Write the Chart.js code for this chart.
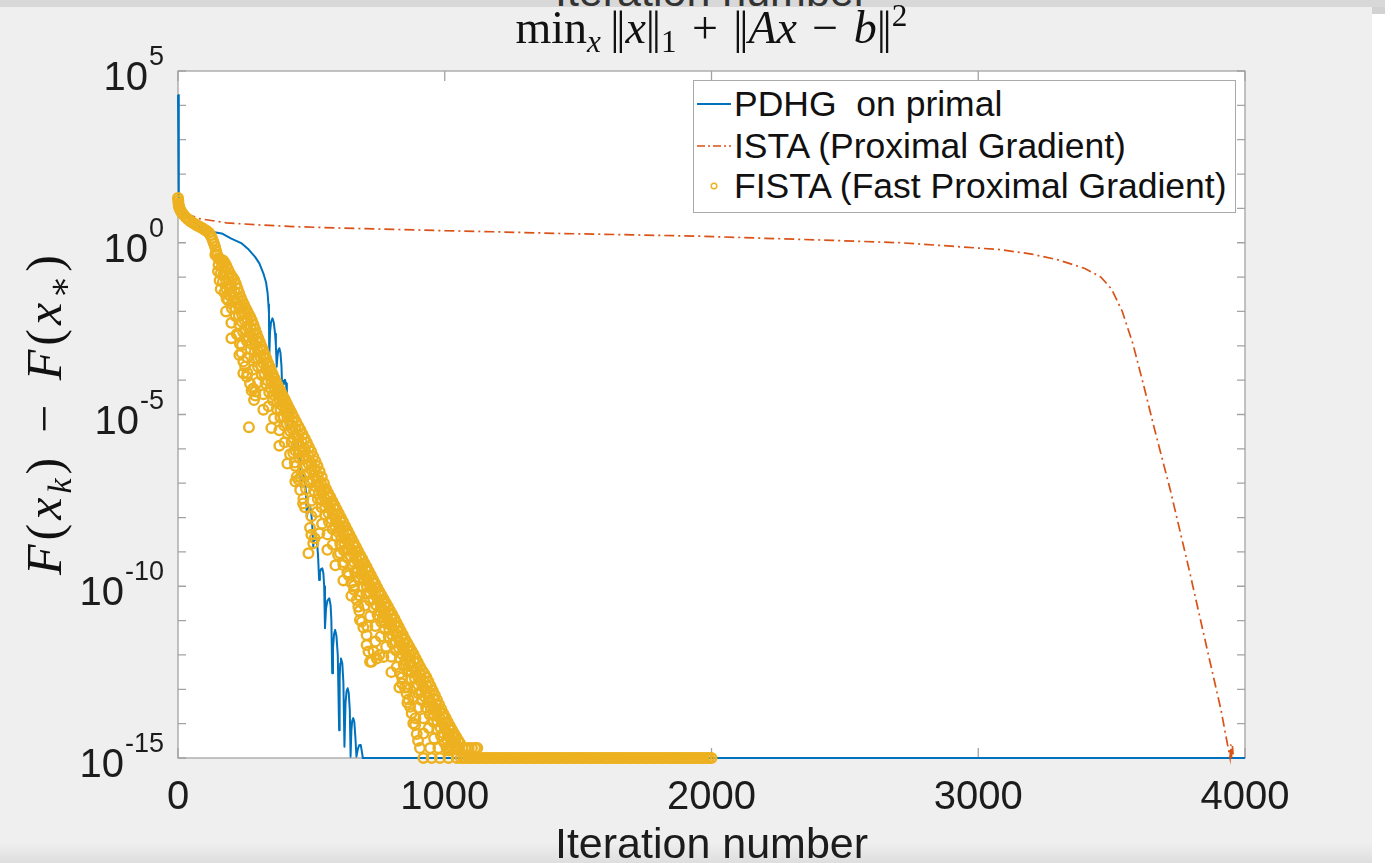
<!DOCTYPE html>
<html lang="en">
  <head>
    <meta charset="UTF-8" />
    <script src="https://cdn.jsdelivr.net/npm/chart.js"></script>
    <style>
      body {
        margin: 0;
        width: 1391px;
        height: 863px;
        position: relative;
        overflow: hidden;
        background: #ffffff;
        font-family: "Liberation Sans", Arial, sans-serif;
      }
      #figure {
        position: absolute;
        left: 0;
        top: 7px;
        width: 1372px;
        height: 856px;
        background: linear-gradient(to bottom, #efefef 0, #efefef 835px, #dedede 856px);
      }
      #topbar {
        position: absolute;
        left: 0;
        top: 0;
        width: 1385px;
        height: 7px;
        background: #d8d8d8;
        overflow: hidden;
      }
      #topbar span {
        position: absolute;
        left: 0;
        top: -30px;
        width: 1423px;
        text-align: center;
        font-size: 43px;
        line-height: 43px;
        color: #333;
      }
      #topbar2 {
        position: absolute;
        left: 1372px;
        top: 7px;
        width: 13px;
        height: 7px;
        background: #d2d2d2;
      }
      canvas {
        position: absolute;
        left: 0;
        top: 0;
      }
      #title {
        position: absolute;
        left: 0;
        top: 5px;
        width: 1423px;
        text-align: center;
        font-family: "Liberation Serif", "DejaVu Serif", serif;
        font-size: 46px;
        line-height: 46px;
        color: #111;
        white-space: pre;
      }
      .bars {
        letter-spacing: -0.07em;
        margin-right: 0.07em;
      }
      #ylabel {
        position: absolute;
        left: -156px;
        top: 385px;
        width: 400px;
        height: 56px;
        line-height: 56px;
        text-align: center;
        transform: rotate(-90deg);
        font-family: "Liberation Serif", "DejaVu Serif", serif;
        font-size: 50px;
        letter-spacing: 0.08em;
        color: #111;
        white-space: pre;
      }
      sub, sup {
        font-size: 0.68em;
        line-height: 0;
      }
      sub { vertical-align: -0.28em; }
      sup { vertical-align: 0.55em; }
      #legend {
        position: absolute;
        left: 693px;
        top: 80px;
        width: 543px;
        height: 133px;
        box-sizing: border-box;
        background: #ffffff;
        border: 1.5px solid #a9a9a9;
      }
      .entry {
        position: absolute;
        left: 0;
        height: 36px;
        font-size: 35.5px;
        line-height: 36px;
        color: #111;
        white-space: pre;
      }
      .entry svg {
        position: absolute;
        left: 3px;
        top: 0;
      }
      .entry span {
        position: absolute;
        left: 40px;
        top: 0;
      }
    </style>
  </head>
  <body>
    <div id="figure"></div>
    <div id="topbar"><span>Iteration number</span></div>
    <div id="topbar2"></div>
    <canvas id="convChart" width="1391" height="863"></canvas>
    <div id="title">min<sub><i>x</i></sub>&#8201;<span class="bars">||</span><i>x</i><span class="bars">||</span><sub>1</sub>&#8196;+&#8196;<span class="bars">||</span><i>Ax</i>&#8196;−&#8196;<i>b</i><span class="bars">||</span><sup>2</sup></div>
    <div id="ylabel"><i>F</i>(<i>x</i><sub><i>k</i></sub>)&#8196;−&#8196;<i>F</i>(<i>x</i><sub>∗</sub>)</div>
    <div id="legend"></div>

    <script>
      // axis setup
      const xTickValues = [0, 1000, 2000, 3000, 4000];
      const xTickLabels = ["0", "1000", "2000", "3000", "4000"];
      const yTickExponents = [5, 0, -5, -10, -15];
      const seriesLabels = [
        "PDHG  on primal",
        "ISTA (Proximal Gradient)",
        "FISTA (Fast Proximal Gradient)",
      ];

      // [iteration, log10(F(x_k) - F(x*))]
      const pdhgLog10 = [
        [0, 4.3], [3, 1.3], [8, 1.05], [15, 0.92], [25, 0.82], [40, 0.7], [60, 0.58], [80, 0.49],
        [100, 0.4], [120, 0.33], [164, 0.27], [200, 0.12], [239, -0.02], [265, -0.2], [289, -0.41],
        [305, -0.6], [320, -0.89], [330, -1.15], [336, -1.47], [339, -1.8], [341, -2.05], [342, -3.36],
        [345, -2.6], [349, -2.3], [354, -2.2], [359, -2.32], [364, -2.65], [367, -3.0], [370, -3.61],
        [373, -3.3], [376, -3.12], [380, -3.07], [384, -3.2], [388, -3.6], [391, -4.38],
        [394, -4.12], [397, -4.02], [401, -3.99], [405, -4.1], [408, -4.4], [411, -5.3],
        [415, -5.0], [419, -4.92], [425, -4.9], [430, -5.05], [434, -5.4], [437, -6.2],
        [441, -5.95], [444, -5.82], [448, -5.8], [453, -5.95], [457, -6.35], [460, -7.1],
        [464, -6.85], [467, -6.76], [471, -6.74], [476, -6.9], [480, -7.3], [483, -8.0],
        [487, -7.75], [490, -7.66], [494, -7.64], [499, -7.8], [503, -8.2], [507, -8.85],
        [510, -8.65], [513, -8.58], [517, -8.56], [521, -8.7], [525, -9.1], [529, -9.82],
        [532, -9.6], [536, -9.5], [541, -9.48], [545, -9.62], [548, -10.0], [551, -11.22],
        [555, -10.65], [560, -10.42], [567, -10.35], [572, -10.55], [575, -11.0], [578, -12.53],
        [581, -11.8], [585, -11.4], [589, -11.27], [594, -11.45], [599, -12.0], [604, -14.19],
        [606, -12.7], [608, -12.25], [611, -12.1], [616, -12.25], [620, -12.8], [624, -14.67],
        [628, -13.4], [632, -13.05], [636, -12.97], [640, -13.1], [644, -13.6], [647, -14.96],
        [650, -14.2], [653, -13.92], [657, -13.84], [661, -13.95], [665, -14.4], [669, -14.96],
        [674, -14.75], [679, -14.63], [685, -14.62], [689, -14.8], [693, -15], [4000, -15],
      ];

      const istaLog10 = [
        [0, 1.3], [7, 0.9], [26, 0.86], [80, 0.7], [182, 0.58], [300, 0.52], [432, 0.47], [600, 0.43],
        [807, 0.39], [1000, 0.35], [1182, 0.32], [1432, 0.27], [1700, 0.23], [1957, 0.19], [2200, 0.13],
        [2450, 0.07], [2707, 0.0], [2900, -0.1], [3082, -0.2], [3200, -0.33], [3300, -0.5],
        [3400, -0.75], [3460, -1.0], [3500, -1.35], [3540, -2.0], [3580, -2.95], [3620, -4.15],
        [3660, -5.4], [3720, -7.2], [3790, -9.5], [3860, -11.9], [3910, -13.6], [3944, -15],
        [3947, -14.6], [3950, -15], [3953, -14.65], [3956, -15],
      ];

      // FISTA markers: upper edge of the cloud, then the strands below it
      const fistaUpper = [
        [0, 1.3], [1, 1.22], [2, 1.14], [3, 1.08], [5, 1.02], [8, 0.96], [12, 0.91], [16, 0.86],
        [20, 0.82], [28, 0.75], [36, 0.69], [44, 0.64], [52, 0.6], [60, 0.56], [68, 0.52], [76, 0.49],
        [84, 0.45], [92, 0.42], [100, 0.38], [108, 0.34], [116, 0.29], [122, 0.22], [127, 0.14],
        [131, 0.06], [135, -0.03], [139, -0.12], [143, -0.24], [147, -0.35], [151, -0.45], [157, -0.48],
        [163, -0.5], [169, -0.52], [175, -0.58], [181, -0.67], [187, -0.77], [193, -0.87], [199, -0.95],
        [205, -1.02], [211, -1.09], [217, -1.2], [223, -1.33], [229, -1.46], [235, -1.59], [241, -1.7],
        [247, -1.8], [253, -1.9], [259, -1.99], [265, -2.08], [271, -2.17], [277, -2.27], [283, -2.39],
        [289, -2.52], [295, -2.65], [301, -2.78], [307, -2.9], [313, -3.02], [319, -3.13], [325, -3.25],
        [331, -3.37], [337, -3.49], [343, -3.6], [349, -3.72], [355, -3.83], [361, -3.94], [367, -4.04],
        [373, -4.14], [379, -4.24], [385, -4.34], [391, -4.43], [397, -4.52], [403, -4.61], [409, -4.71],
        [415, -4.8], [421, -4.89], [427, -4.98], [435, -5.1], [443, -5.22], [451, -5.34], [459, -5.45],
        [467, -5.58], [475, -5.7], [483, -5.82], [491, -5.95], [499, -6.08], [507, -6.22], [515, -6.36],
        [523, -6.5], [531, -6.66], [539, -6.82], [547, -7.0], [555, -7.17], [563, -7.29], [571, -7.41],
        [579, -7.53], [587, -7.65], [595, -7.77], [603, -7.89], [611, -8.01], [619, -8.13], [627, -8.25],
        [635, -8.38], [643, -8.5], [651, -8.62], [659, -8.74], [667, -8.86], [675, -8.98], [683, -9.1],
        [691, -9.21], [699, -9.33], [707, -9.44], [715, -9.56], [723, -9.68], [731, -9.8], [739, -9.92],
        [747, -10.04], [755, -10.16], [763, -10.27], [771, -10.38], [779, -10.49], [787, -10.6],
        [795, -10.71], [803, -10.82], [811, -10.94], [819, -11.06], [827, -11.18], [835, -11.3],
        [843, -11.42], [851, -11.54], [859, -11.65], [867, -11.76], [875, -11.87], [883, -11.98],
        [891, -12.1], [899, -12.22], [907, -12.34], [915, -12.45], [923, -12.55], [931, -12.65],
        [939, -12.78], [947, -12.91], [955, -13.04], [963, -13.17], [971, -13.31], [979, -13.45],
        [987, -13.58], [995, -13.71], [1003, -13.83], [1011, -13.95], [1019, -14.07], [1027, -14.18],
        [1035, -14.29], [1043, -14.39], [1051, -14.5], [1057, -14.57],
      ];

      const fistaBand1 = [
        [140, -0.35], [152, -0.65], [164, -0.7], [176, -0.83], [188, -1.03], [200, -1.23], [212, -1.43],
        [224, -1.62], [236, -1.82], [248, -2.03], [260, -2.24], [272, -2.46], [284, -2.67], [296, -2.89],
        [308, -3.1], [320, -3.31], [332, -3.52], [344, -3.73], [356, -3.94], [368, -4.15], [380, -4.36],
        [392, -4.57], [404, -4.78], [416, -4.99], [428, -5.2], [440, -5.4], [452, -5.6], [464, -5.8],
        [476, -6.0], [488, -6.2], [500, -6.41], [512, -6.61], [524, -6.81], [536, -7.01], [548, -7.21],
        [560, -7.39], [572, -7.57], [584, -7.75], [596, -7.93], [608, -8.11], [620, -8.28], [632, -8.46],
        [644, -8.64], [656, -8.82], [668, -9.0], [680, -9.17], [692, -9.35], [704, -9.53], [716, -9.71],
        [728, -9.89], [740, -10.06], [752, -10.24], [764, -10.42], [776, -10.6], [788, -10.78],
        [800, -10.95], [812, -11.13], [824, -11.31], [836, -11.49], [848, -11.67], [860, -11.84],
        [872, -12.02], [884, -12.2], [896, -12.38], [908, -12.56], [920, -12.74], [932, -12.91],
        [944, -13.09], [956, -13.27], [968, -13.45], [980, -13.63], [992, -13.81], [1004, -13.98],
        [1016, -14.16], [1028, -14.34], [1040, -14.52], [1052, -14.7],
      ];

      const fistaBand2 = [
        [150, -0.83], [160, -0.9], [170, -0.94], [180, -1.1], [190, -1.26], [200, -1.43], [210, -1.59],
        [220, -1.76], [230, -1.92], [240, -2.08], [250, -2.26], [260, -2.44], [270, -2.62], [280, -2.8],
        [290, -2.98], [300, -3.16], [310, -3.34], [320, -3.51], [330, -3.69], [340, -3.86], [350, -4.04],
        [360, -4.21], [370, -4.38], [380, -4.56], [390, -4.73], [400, -4.91], [410, -5.08], [420, -5.26],
        [430, -5.43], [440, -5.6], [450, -5.77], [460, -5.93], [470, -6.1], [480, -6.27], [490, -6.44],
        [500, -6.61], [510, -6.77], [520, -6.94], [530, -7.11], [540, -7.28], [550, -7.44], [560, -7.59],
        [570, -7.74], [580, -7.89], [590, -8.04], [600, -8.19], [610, -8.33], [620, -8.48], [630, -8.63],
        [640, -8.78], [650, -8.93], [660, -9.08], [670, -9.23], [680, -9.37], [690, -9.52], [700, -9.67],
        [710, -9.82], [720, -9.97], [730, -10.12], [740, -10.26], [750, -10.41], [760, -10.56],
        [770, -10.71], [780, -10.86], [790, -11.01], [800, -11.15], [810, -11.3], [820, -11.45],
        [830, -11.6], [840, -11.75], [850, -11.9], [860, -12.04], [870, -12.19], [880, -12.34],
        [890, -12.49], [900, -12.64], [910, -12.79], [920, -12.94], [930, -13.08], [940, -13.23],
        [950, -13.38], [960, -13.53], [970, -13.68], [980, -13.82], [990, -13.97], [1000, -14.12],
        [1010, -14.27], [1020, -14.42], [1030, -14.57], [1040, -14.72],
      ];

      const fistaBand2b = [
        [156, -1.1], [168, -1.14], [180, -1.32], [192, -1.52], [204, -1.71], [216, -1.91], [228, -2.11],
        [240, -2.3], [252, -2.52], [264, -2.73], [276, -2.95], [288, -3.17], [300, -3.38], [312, -3.59],
        [324, -3.8], [336, -4.01], [348, -4.22], [360, -4.43], [372, -4.64], [384, -4.85], [396, -5.06],
        [408, -5.27], [420, -5.48], [432, -5.68], [444, -5.89], [456, -6.09], [468, -6.29], [480, -6.49],
        [492, -6.69], [504, -6.89], [516, -7.09], [528, -7.3], [540, -7.5], [552, -7.69], [564, -7.87],
        [576, -8.05], [588, -8.23], [600, -8.41], [612, -8.58], [624, -8.76], [636, -8.94], [648, -9.12],
        [660, -9.3], [672, -9.48], [684, -9.65], [696, -9.83], [708, -10.01], [720, -10.19],
        [732, -10.37], [744, -10.55], [756, -10.72], [768, -10.9], [780, -11.08], [792, -11.26],
        [804, -11.43], [816, -11.61], [828, -11.79], [840, -11.97], [852, -12.15], [864, -12.32],
        [876, -12.5], [888, -12.68], [900, -12.86], [912, -13.04], [924, -13.21], [936, -13.39],
        [948, -13.57], [960, -13.75], [972, -13.93], [984, -14.11], [996, -14.28], [1008, -14.46],
        [1020, -14.64],
      ];

      const fistaBand3 = [
        [160, -1.35], [174, -1.45], [188, -1.68], [202, -1.91], [216, -2.14], [230, -2.37], [244, -2.6],
        [258, -2.86], [272, -3.11], [286, -3.36], [300, -3.61], [314, -3.86], [328, -4.1], [342, -4.35],
        [356, -4.59], [370, -4.83], [384, -5.08], [398, -5.32], [412, -5.57], [426, -5.81], [440, -6.05],
        [454, -6.27], [468, -6.52], [482, -6.75], [496, -6.99], [510, -7.22], [524, -7.46], [538, -7.7],
        [552, -7.92], [566, -8.13], [580, -8.34], [594, -8.55], [608, -8.76], [622, -8.96], [636, -9.17],
        [650, -9.38], [664, -9.59], [678, -9.79], [692, -10.0], [706, -10.21], [720, -10.42],
        [734, -10.63], [748, -10.83], [762, -11.04], [776, -11.25], [790, -11.46], [804, -11.66],
        [818, -11.87], [832, -12.08], [846, -12.29], [860, -12.49], [874, -12.7], [888, -12.91],
        [902, -13.12], [916, -13.33], [930, -13.53], [944, -13.74], [958, -13.95], [972, -14.16],
        [986, -14.36], [1000, -14.57], [1014, -14.78],
      ];

      const fistaBand4 = [
        [180, -2.0], [200, -2.33], [220, -2.66], [240, -2.98], [260, -3.34], [280, -3.7], [300, -4.06],
        [320, -4.41], [340, -4.76], [360, -5.11], [380, -5.46], [400, -5.81], [420, -6.16], [440, -6.5],
        [460, -6.83], [480, -7.17], [500, -7.51], [520, -7.84], [540, -8.18], [560, -8.49], [580, -8.79],
        [600, -9.09], [620, -9.38], [640, -9.68], [660, -9.98], [680, -10.27], [700, -10.57],
        [720, -10.87], [740, -11.16], [760, -11.46], [780, -11.76], [800, -12.05], [820, -12.35],
        [840, -12.65], [860, -12.94], [880, -13.24], [900, -13.54], [920, -13.84], [940, -14.13],
        [960, -14.43],
      ];

      const fistaBand5 = [
        [200, -2.78], [230, -3.27], [260, -3.79], [290, -4.33], [320, -4.86], [350, -5.39], [380, -5.91],
        [410, -6.43], [440, -6.95], [470, -7.45], [500, -7.96], [530, -8.46], [560, -8.94], [590, -9.39],
        [620, -9.83], [650, -10.28], [680, -10.72], [710, -11.17], [740, -11.61], [770, -12.06],
        [800, -12.5], [830, -12.95], [860, -13.39], [890, -13.84], [920, -14.29],
      ];

      const fistaScatter = [
        [182, -1.62], [226, -2.69], [232, -2.95], [238, -3.2], [245, -3.46], [245, -3.8], [252, -3.6],
        [258, -3.9], [266, -5.37], [270, -4.1], [276, -4.3], [282, -4.24], [285, -4.58], [290, -4.45],
        [432, -6.12], [438, -6.4], [445, -6.81], [452, -6.9], [458, -7.2], [469, -7.59], [476, -7.7],
        [489, -9.04], [495, -8.3], [500, -8.5], [507, -8.75], [512, -8.6],
        [607, -9.04], [620, -9.3], [635, -9.6], [650, -9.9], [660, -10.1], [670, -10.4], [676, -10.6],
        [682, -10.98], [689, -11.03], [695, -11.2], [707, -11.42], [707, -11.71], [714, -11.9],
        [720, -12.2], [726, -12.2], [733, -11.9], [745, -12.1], [755, -12.0],
        [832, -12.53], [840, -12.83], [850, -12.95], [857, -13.12], [864, -13.3], [870, -13.51],
        [876, -13.7], [882, -13.99], [889, -14.04], [895, -14.3], [900, -14.5],
      ];

      // row of markers just above the floor, and the floor itself (1e-15)
      const fistaRowLevel = -14.71;
      const fistaRowIter = [907, 945, 976, 1007, 1018, 1030, 1042, 1054, 1066, 1078, 1090, 1102, 1114, 1122];
      const floorLevel = -15;
      const fistaFloorIter = [
        920, 951, 982, 1014, 1045, 1060, 1070, 1080, 1090, 1100, 1110, 1120, 1130, 1140, 1150, 1160,
        1170, 1180, 1190, 1200, 1210, 1220, 1230, 1240, 1250, 1260, 1270, 1280, 1290, 1300, 1310, 1320,
        1330, 1340, 1350, 1360, 1370, 1380, 1390, 1400, 1410, 1420, 1430, 1440, 1450, 1460, 1470, 1480,
        1490, 1500, 1510, 1520, 1530, 1540, 1550, 1560, 1570, 1580, 1590, 1600, 1610, 1620, 1630, 1640,
        1650, 1660, 1670, 1680, 1690, 1700, 1710, 1720, 1730, 1740, 1750, 1760, 1770, 1780, 1790, 1800,
        1810, 1820, 1830, 1840, 1850, 1860, 1870, 1880, 1890, 1900, 1910, 1920, 1930, 1940, 1950, 1960,
        1970, 1980, 1990, 2000,
      ];

      const colors = ["#0072BD", "#D95319", "#EDB120"];
      const font = '"Liberation Sans", Arial, sans-serif';

      const toPoints = (pairs) => pairs.map(([it, e]) => ({ x: it, y: Math.pow(10, e) }));
      const fistaPoints = toPoints(
        fistaUpper
          .concat(fistaBand1, fistaBand2, fistaBand2b, fistaBand3, fistaBand4, fistaBand5, fistaScatter)
          .concat(fistaRowIter.map((it) => [it, fistaRowLevel]))
          .concat(fistaFloorIter.map((it) => [it, floorLevel]))
      );

      // MATLAB-like box, inward ticks and tick labels
      const matlabAxes = {
        id: "matlabAxes",
        beforeDatasetsDraw(chart) {
          const { ctx, chartArea: a, scales } = chart;
          ctx.save();
          ctx.fillStyle = "#ffffff";
          ctx.fillRect(a.left, a.top, a.right - a.left, a.bottom - a.top);
          ctx.strokeStyle = "#a3a3a3";
          ctx.lineWidth = 1.3;
          ctx.strokeRect(a.left, a.top, a.right - a.left, a.bottom - a.top);
          ctx.beginPath();
          xTickValues.forEach((v) => {
            const px = scales.x.getPixelForValue(v);
            ctx.moveTo(px, a.bottom);
            ctx.lineTo(px, a.bottom - 10);
            ctx.moveTo(px, a.top);
            ctx.lineTo(px, a.top + 10);
          });
          for (let e = -15; e <= 5; e++) {
            const py = scales.y.getPixelForValue(Math.pow(10, e));
            ctx.moveTo(a.left, py);
            ctx.lineTo(a.left + 8, py);
            ctx.moveTo(a.right, py);
            ctx.lineTo(a.right - 8, py);
          }
          ctx.stroke();
          ctx.restore();
        },
        afterDraw(chart) {
          const { ctx, chartArea: a, scales } = chart;
          ctx.save();
          ctx.fillStyle = "#1c1c1c";
          ctx.textBaseline = "alphabetic";

          ctx.textAlign = "center";
          ctx.font = "40px " + font;
          xTickValues.forEach((v, i) => {
            ctx.fillText(xTickLabels[i], scales.x.getPixelForValue(v), 809);
          });

          ctx.textAlign = "right";
          yTickExponents.forEach((e) => {
            const py = scales.y.getPixelForValue(Math.pow(10, e));
            const sup = e < 0 ? "-" + -e : String(e);
            const right = a.left - 14;
            ctx.font = "27px " + font;
            const supW = ctx.measureText(sup).width;
            ctx.fillText(sup, right, py - 6);
            ctx.font = "40px " + font;
            ctx.fillText("10", right - supW - 1, py + 19);
          });

          ctx.textAlign = "center";
          ctx.font = "43px " + font;
          ctx.fillText("Iteration number", (a.left + a.right) / 2, 858);
          ctx.restore();
        },
      };

      const ctx = document.getElementById("convChart").getContext("2d");
      const convChart = new Chart(ctx, {
        type: "scatter",
        data: {
          datasets: [
            {
              label: seriesLabels[0],
              data: toPoints(pdhgLog10),
              showLine: true,
              borderColor: colors[0],
              borderWidth: 2,
              borderJoinStyle: "round",
              pointRadius: 0,
              clip: false,
              order: 3,
            },
            {
              label: seriesLabels[1],
              data: toPoints(istaLog10),
              showLine: true,
              borderColor: colors[1],
              borderWidth: 1.7,
              borderDash: [10, 4, 2, 4],
              pointRadius: 0,
              clip: false,
              order: 2,
            },
            {
              label: seriesLabels[2],
              data: fistaPoints,
              showLine: false,
              pointStyle: "circle",
              pointRadius: 4.8,
              pointBorderWidth: 2.4,
              pointBorderColor: colors[2],
              pointBackgroundColor: "rgba(0,0,0,0)",
              clip: false,
              order: 1,
            },
          ],
        },
        options: {
          responsive: false,
          animation: false,
          devicePixelRatio: 1,
          events: [],
          layout: { padding: { left: 178, top: 71, right: 146, bottom: 105 } },
          plugins: { legend: { display: false }, tooltip: { enabled: false } },
          scales: {
            x: { type: "linear", min: 0, max: 4000, display: false },
            y: { type: "logarithmic", min: 1e-15, max: 1e5, display: false },
          },
        },
        plugins: [matlabAxes],
      });

      // legend box built from the chart's datasets
      const legendEl = document.getElementById("legend");
      const baselines = [35, 77, 117];
      convChart.data.datasets.forEach((ds, i) => {
        let sample;
        if (i === 0) {
          sample = '<line x1="0" y1="18" x2="34" y2="18" stroke="' + ds.borderColor + '" stroke-width="2"/>';
        } else if (i === 1) {
          sample = '<line x1="0" y1="18" x2="34" y2="18" stroke="' + ds.borderColor +
            '" stroke-width="1.6" stroke-dasharray="8 3 2 3"/>';
        } else {
          sample = '<circle cx="17" cy="18" r="2.8" fill="none" stroke="' + ds.pointBorderColor + '" stroke-width="1.4"/>';
        }
        const row = document.createElement("div");
        row.className = "entry";
        row.style.top = baselines[i] - 30 + "px";
        row.innerHTML = '<svg width="36" height="36">' + sample + "</svg><span>" + ds.label + "</span>";
        legendEl.appendChild(row);
      });
    </script>
  </body>
</html>
